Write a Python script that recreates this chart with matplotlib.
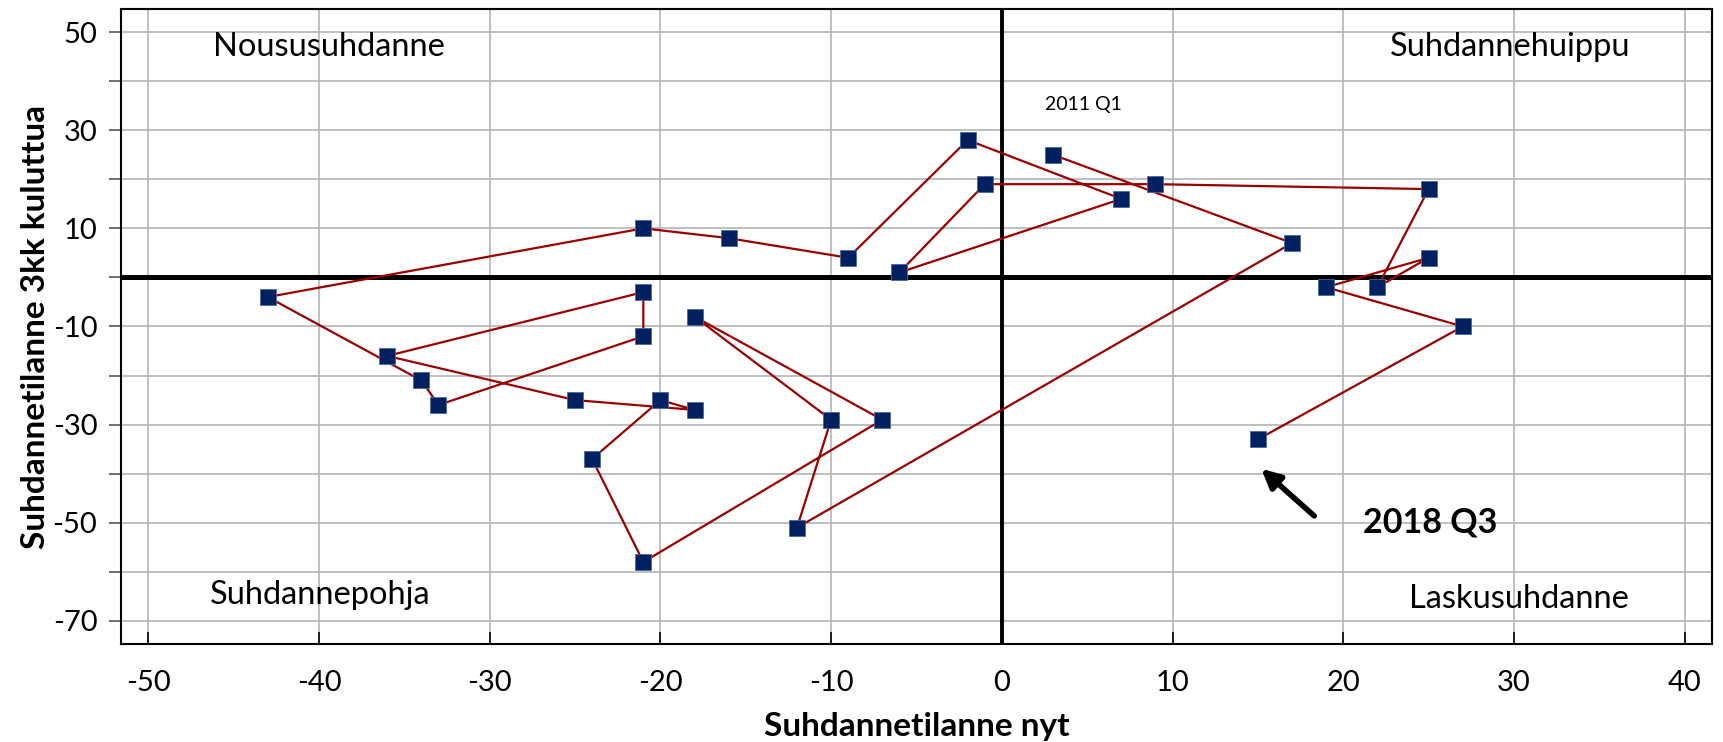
import matplotlib
matplotlib.use('Agg')
import matplotlib.pyplot as plt

plt.rcParams['font.family'] = ['Lato', 'DejaVu Sans']
plt.rcParams['axes.unicode_minus'] = False

# Suhdannetilanne nyt (x) and 3kk kuluttua (y), quarters 2011 Q1 .. 2018 Q3
x_now = [3, 17, -12, -10, -18, -7, -21, -24, -20, -18,
         -25, -36, -21, -21, -33, -34, -43, -21, -16, -9,
         -2, 7, -6, -1, 9, 25, 22, 25, 19, 27,
         15]
y_3kk = [25, 7, -51, -29, -8, -29, -58, -37, -25, -27,
         -25, -16, -3, -12, -26, -21, -4, 10, 8, 4,
         28, 16, 1, 19, 19, 18, -2, 4, -2, -10,
         -33]

x_ticks = list(range(-50, 41, 10))
y_label_ticks = [50, 30, 10, -10, -30, -50, -70]
y_minor_ticks = [40, 20, 0, -20, -40, -60]

quadrants = ['Noususuhdanne', 'Suhdannehuippu', 'Suhdannepohja', 'Laskusuhdanne']
quadrant_pos = [(-39.4, 47), (29.8, 47), (-39.9, -64.7), (30.3, -65.6)]

first_label = '2011 Q1'
last_label = '2018 Q3'

fig = plt.figure(figsize=(17.23, 7.42), dpi=100)
ax = fig.add_axes([0.0702, 0.1321, 0.9234, 0.8558])

ax.set_xlim(-51.6, 41.6)
ax.set_ylim(-74.7, 54.7)

ax.set_xticks(x_ticks)
ax.set_yticks(y_label_ticks)
ax.set_yticks(y_minor_ticks, minor=True)
ax.grid(True, which='both', color='#b4b4b4', linewidth=1.2)
ax.set_axisbelow(True)

ax.tick_params(axis='x', direction='in', length=9, width=1.2, labelsize=21, pad=19)
ax.tick_params(axis='y', which='both', direction='out', length=9, width=1.2,
               color='#555555', labelsize=21, pad=8)
for sp in ax.spines.values():
    sp.set_linewidth(1.5)

ax.axhline(0, color='black', linewidth=3.6, zorder=2)
ax.axvline(0, color='black', linewidth=2.8, zorder=2)

ax.plot(x_now, y_3kk, color='#990000', linewidth=1.6, zorder=3)
ax.plot(x_now, y_3kk, linestyle='none', marker='s', markersize=11.5,
        markerfacecolor='#002060', markeredgecolor='#4a6a9a',
        markeredgewidth=0.6, zorder=4)

for name, (qx, qy) in zip(quadrants, quadrant_pos):
    ax.text(qx, qy, name, fontsize=23.5, ha='center', va='center')

ax.text(4.8, 35.2, first_label, fontsize=14, ha='center', va='center')
ax.text(25.1, -50, last_label, fontsize=24.5, fontweight='bold',
        ha='center', va='center')
ax.annotate('', xy=(15.2, -39.0), xytext=(18.3, -48.6),
            arrowprops=dict(arrowstyle='-|>', color='black', lw=4,
                            mutation_scale=28, shrinkA=0, shrinkB=0))

ax.set_xlabel('Suhdannetilanne nyt', fontsize=24, fontweight='bold', labelpad=11)
ax.set_ylabel('Suhdannetilanne 3kk kuluttua', fontsize=24, fontweight='bold',
              labelpad=2)

fig.savefig('out.png', dpi=100)
